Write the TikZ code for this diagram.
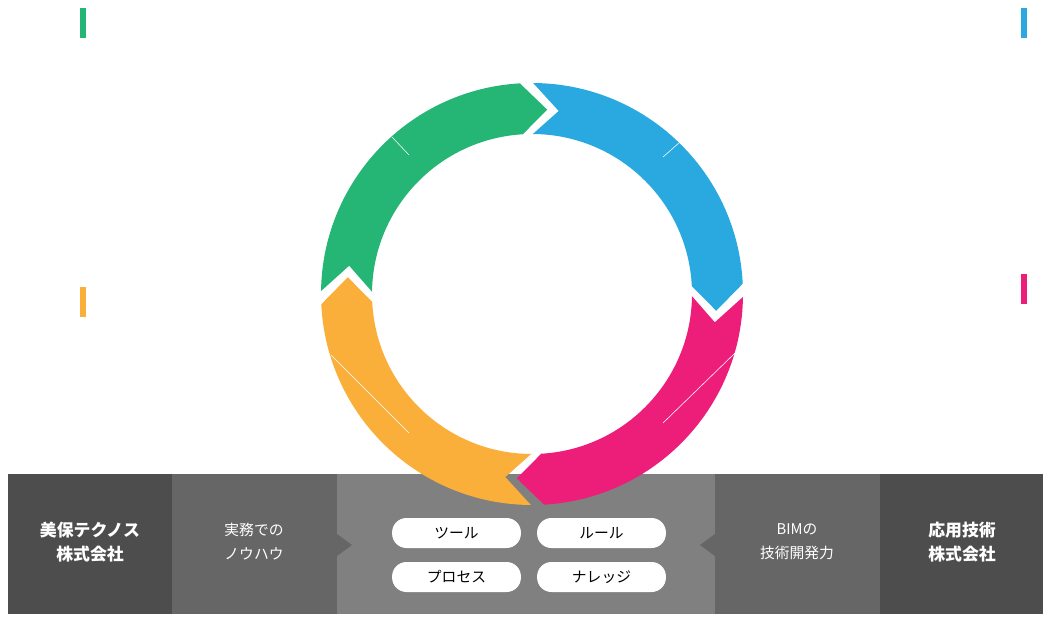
\documentclass[tikz,border=0pt]{standalone}
\usepackage{fontspec}
\setmainfont{Noto Sans CJK JP}
\usetikzlibrary{positioning}
\definecolor{cgreen}{HTML}{25B574}
\definecolor{cblue}{HTML}{2AA9E0}
\definecolor{cpink}{HTML}{EC1E79}
\definecolor{corange}{HTML}{FAAF3B}
\definecolor{gdark}{HTML}{4D4D4D}
\definecolor{gmid}{HTML}{666666}
\definecolor{glight}{HTML}{808080}
\tikzset{
  company/.style={text=white,font=\bfseries\fontsize{12}{17}\selectfont,align=center},
  keyword/.style={text=white,font=\fontsize{10.5}{17}\selectfont,align=center},
  pill/.style={fill=white,rounded corners=0.36cm,minimum width=3.22cm,minimum height=0.75cm,font=\fontsize{10.5}{12}\selectfont},
  marker/.style={line width=1.4mm},
  leader/.style={draw=white,line width=0.4pt}
}
% one ring segment: colour, tail angle, head angle
\newcommand{\ringpart}[3]{%
  \fill[#1] (532,326) ++(#2-1.8:211) arc[start angle=#2-1.8,end angle=#3+1.8,radius=211]
    -- ($(532,326)+(#3+1.8-8:185)$) -- ($(532,326)+(#3+1.8:160)$)
    arc[start angle=#3+1.8,end angle=#2-1.8,radius=160]
    -- ($(532,326)+(#2-1.8-8:185)$) -- cycle;}
\usetikzlibrary{calc}
\begin{document}
\begin{tikzpicture}[x=0.025cm,y=0.025cm]
\useasboundingbox (0,0) rectangle (1050,620);
% band
\fill[gdark] (8,6) rectangle (172,146);
\fill[gmid] (172,6) rectangle (337,146);
\fill[glight] (337,6) rectangle (715,146);
\fill[gmid] (715,6) rectangle (880,146);
\fill[gdark] (880,6) rectangle (1043,146);
\fill[gmid] (337,86) -- (352,75) -- (337,64) -- cycle;
\fill[gmid] (715,86) -- (700,75) -- (715,64) -- cycle;
% ring
\ringpart{cgreen}{181}{91.5}
\ringpart{cblue}{91.5}{1}
\ringpart{cpink}{1}{-88.5}
\ringpart{corange}{-88.5}{-179}
\coordinate (g1) at (392,483); \coordinate (g2) at (409,465);
\coordinate (b1) at (680,478); \coordinate (b2) at (663,463);
\coordinate (p1) at (735,267); \coordinate (p2) at (663,197);
\coordinate (o1) at (331,265); \coordinate (o2) at (409,187);
\draw[leader] (g1) -- (g2);
\draw[leader] (b1) -- (b2);
\draw[leader] (p1) -- (p2);
\draw[leader] (o1) -- (o2);
% markers
\draw[marker,cgreen] (83,612) -- (83,582);
\draw[marker,cblue] (1024,612) -- (1024,582);
\draw[marker,corange] (83,333) -- (83,303);
\draw[marker,cpink] (1024,346) -- (1024,316);
% texts
\node[company] (miho) at (90,78) {美保テクノス\\株式会社};
\node[keyword] (jitsumu) at (254,78) {実務での\\ノウハウ};
\node[keyword] (bim) at (797,78) {BIMの\\技術開発力};
\node[company] (oyo) at (962,78) {応用技術\\株式会社};
\node[pill] (tool) at (456.5,87) {ツール};
\node[pill] (rule) at (601.5,87) {ルール};
\node[pill] (process) at (456.5,43) {プロセス};
\node[pill] (knowledge) at (601.5,43) {ナレッジ};
\end{tikzpicture}
\end{document}
